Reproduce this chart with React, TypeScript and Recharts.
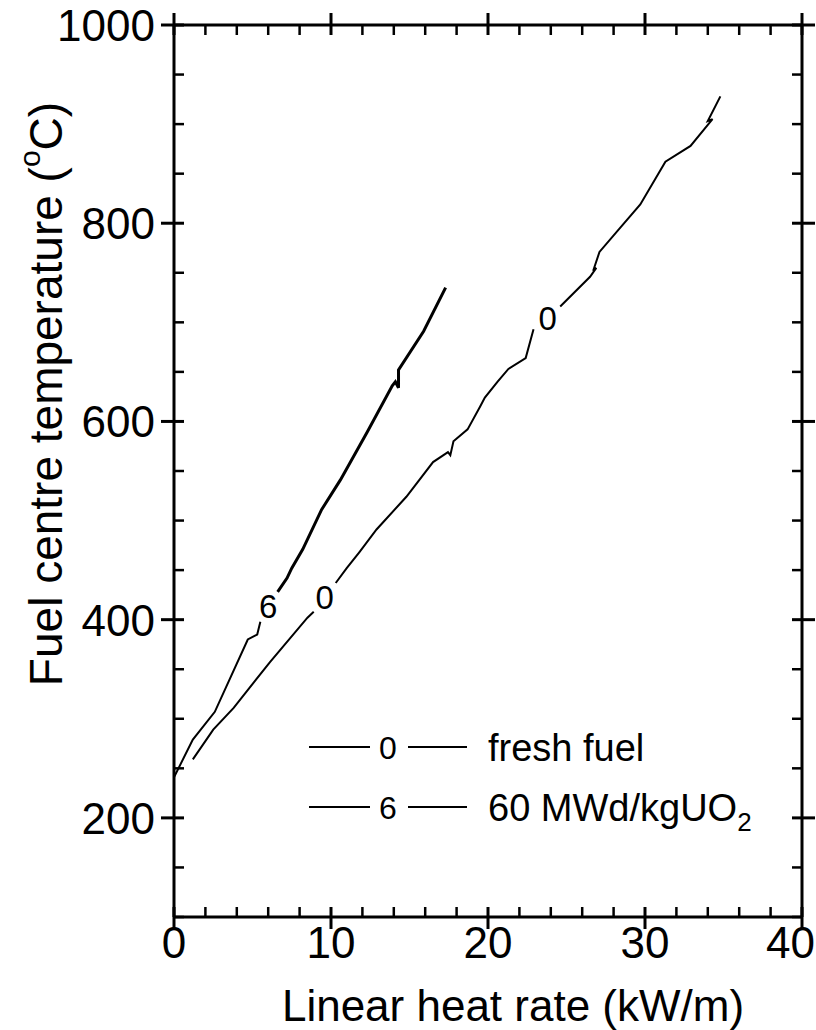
import React from 'react';
import { LineChart, Line, XAxis, YAxis, ReferenceDot, Customized } from 'recharts';

// ---- ticks ----
const xTicks = [0, 2, 4, 6, 8, 10, 12, 14, 16, 18, 20, 22, 24, 26, 28, 30, 32, 34, 36, 38, 40];
const yTicks = [100, 150, 200, 250, 300, 350, 400, 450, 500, 550, 600, 650, 700, 750, 800, 850, 900, 950, 1000];
const xMajor = [0, 10, 20, 30, 40];
const yMajor = [200, 400, 600, 800, 1000];

// ---- fresh fuel (0) ----
const freshA = [
  { q: 1.2, t: 259 }, { q: 2.5, t: 289 }, { q: 3.8, t: 311 }, { q: 6.1, t: 357 },
  { q: 8.5, t: 402 }, { q: 8.9, t: 408 },
];
const freshB = [
  { q: 10.3, t: 437 }, { q: 11.0, t: 452 }, { q: 11.8, t: 468 }, { q: 12.9, t: 491 },
  { q: 14.8, t: 524 }, { q: 16.5, t: 559 }, { q: 17.45, t: 569 }, { q: 17.6, t: 566 },
  { q: 17.8, t: 580 }, { q: 18.7, t: 592 }, { q: 19.5, t: 615 }, { q: 19.8, t: 624 },
  { q: 20.6, t: 640 }, { q: 21.3, t: 653 }, { q: 22.4, t: 664 }, { q: 22.9, t: 693 },
];
const freshC = [
  { q: 24.6, t: 716 }, { q: 26.5, t: 746 }, { q: 26.9, t: 755 }, { q: 26.7, t: 752 },
  { q: 27.1, t: 771 }, { q: 28.4, t: 795 }, { q: 29.7, t: 819 }, { q: 31.3, t: 862 },
  { q: 32.9, t: 878 }, { q: 34.3, t: 905 }, { q: 34.0, t: 903 }, { q: 34.8, t: 928 },
];

// ---- 60 MWd/kgUO2 (6) ----
const burnA = [
  { q: 0.0, t: 241 }, { q: 1.2, t: 279 }, { q: 2.6, t: 307 }, { q: 4.7, t: 380 },
  { q: 5.3, t: 385 }, { q: 5.5, t: 398 },
];
const burnB = [
  { q: 6.6, t: 428 }, { q: 7.2, t: 442 }, { q: 7.5, t: 452 }, { q: 8.2, t: 471 },
  { q: 9.4, t: 511 }, { q: 10.6, t: 541 }, { q: 12.3, t: 589 }, { q: 13.9, t: 636 },
  { q: 14.1, t: 640 }, { q: 14.3, t: 634 }, { q: 14.3, t: 652 }, { q: 15.9, t: 691 },
  { q: 17.3, t: 735 },
];

const curveLabels = [
  { q: 6.0, t: 414, text: '6' },
  { q: 9.6, t: 423, text: '0' },
  { q: 23.8, t: 704, text: '0' },
];

const legendItems = [
  { mark: '0', name: 'fresh fuel', sub: '' },
  { mark: '6', name: '60 MWd/kgUO', sub: '2' },
];

const FONT = 'Liberation Sans, Arial, Helvetica, sans-serif';
const TS = 8; // tickSize
const TM = 2; // tickMargin
const OFF = TS + TM;
const CHART_W = 816;

const BottomTick = (props: any) => {
  const { x, y, payload } = props;
  const ay = y - OFF;
  const v = payload.value;
  const major = xMajor.includes(v);
  const isLast = v === xTicks[xTicks.length - 1];
  return (
    <g>
      <line x1={x} x2={x} y1={ay - 10} y2={major ? ay + 12 : ay} stroke="#000" strokeWidth={major ? 3 : 2.5} />
      {major && (
        <text
          x={isLast ? CHART_W - 1 : x}
          y={ay + 41}
          textAnchor={isLast ? 'end' : 'middle'}
          fontSize={44}
          fontFamily={FONT}
          fill="#000"
        >
          {v}
        </text>
      )}
    </g>
  );
};

const TopTick = (props: any) => {
  const { x, y, payload } = props;
  const ay = y + OFF;
  const major = xMajor.includes(payload.value);
  return <line x1={x} x2={x} y1={major ? ay - 12 : ay} y2={ay + 10} stroke="#000" strokeWidth={major ? 3 : 2.5} />;
};

const LeftTick = (props: any) => {
  const { x, y, payload } = props;
  const ax = x + OFF;
  const v = payload.value;
  const major = yMajor.includes(v);
  return (
    <g>
      <line x1={major ? ax - 13 : ax} x2={ax + 10} y1={y} y2={y} stroke="#000" strokeWidth={major ? 3 : 2.5} />
      {major && (
        <text x={ax - 19} y={y} dy="0.36em" textAnchor="end" fontSize={44} fontFamily={FONT} fill="#000">
          {v}
        </text>
      )}
    </g>
  );
};

const RightTick = (props: any) => {
  const { x, y, payload } = props;
  const ax = x - OFF;
  const major = yMajor.includes(payload.value);
  return <line x1={ax - 10} x2={major ? ax + 13 : ax} y1={y} y2={y} stroke="#000" strokeWidth={major ? 3 : 2.5} />;
};

const Decorations = () => (
  <g fontFamily={FONT} fill="#000">
    <text x={513} y={1021} textAnchor="middle" fontSize={44}>
      Linear heat rate (kW/m)
    </text>
    <text x={62} y={394} textAnchor="middle" fontSize={46} transform="rotate(-90, 62, 394)">
      <tspan>Fuel centre temperature (</tspan>
      <tspan fontSize={30} dy={-22}>o</tspan>
      <tspan fontSize={46} dy={22}>C)</tspan>
    </text>
    {legendItems.map((it, i) => {
      const cy = 747 + i * 60;
      return (
        <g key={i}>
          <line x1={309} x2={370} y1={cy} y2={cy} stroke="#000" strokeWidth={2} />
          <text x={388} y={cy} dy="0.36em" textAnchor="middle" fontSize={32}>{it.mark}</text>
          <line x1={408} x2={467} y1={cy} y2={cy} stroke="#000" strokeWidth={2} />
          <text x={488} y={cy + 14} fontSize={38}>
            <tspan>{it.name}</tspan>
            {it.sub && <tspan fontSize={26} dy={10}>{it.sub}</tspan>}
          </text>
        </g>
      );
    })}
  </g>
);

export default function App() {
  return (
    <div style={{ position: 'absolute', left: 0, top: 0, width: 816, height: 1030, background: '#fff' }}>
      <LineChart width={CHART_W} height={1030} margin={{ top: 24, right: 13, bottom: 0, left: 0 }}>
        <XAxis
          xAxisId={0}
          type="number"
          dataKey="q"
          domain={[0, 40]}
          ticks={xTicks}
          interval={0}
          height={113}
          tickSize={TS}
          tickMargin={TM}
          tickLine={false}
          tick={BottomTick}
          axisLine={{ stroke: '#000', strokeWidth: 3 }}
          allowDataOverflow
        />
        <XAxis
          xAxisId="top"
          orientation="top"
          type="number"
          dataKey="q"
          domain={[0, 40]}
          ticks={xTicks}
          interval={0}
          height={1}
          tickSize={TS}
          tickMargin={TM}
          tickLine={false}
          tick={TopTick}
          axisLine={{ stroke: '#000', strokeWidth: 3 }}
          allowDataOverflow
        />
        <YAxis
          yAxisId={0}
          type="number"
          dataKey="t"
          domain={[100, 1000]}
          ticks={yTicks}
          interval={0}
          width={174}
          tickSize={TS}
          tickMargin={TM}
          tickLine={false}
          tick={LeftTick}
          axisLine={{ stroke: '#000', strokeWidth: 3 }}
          allowDataOverflow
        />
        <YAxis
          yAxisId="right"
          orientation="right"
          type="number"
          dataKey="t"
          domain={[100, 1000]}
          ticks={yTicks}
          interval={0}
          width={1}
          tickSize={TS}
          tickMargin={TM}
          tickLine={false}
          tick={RightTick}
          axisLine={{ stroke: '#000', strokeWidth: 3 }}
          allowDataOverflow
        />
        <Line data={freshA} dataKey="t" type="linear" stroke="#000" strokeWidth={2} dot={false} isAnimationActive={false} />
        <Line data={freshB} dataKey="t" type="linear" stroke="#000" strokeWidth={2} dot={false} isAnimationActive={false} />
        <Line data={freshC} dataKey="t" type="linear" stroke="#000" strokeWidth={2} dot={false} isAnimationActive={false} />
        <Line data={burnA} dataKey="t" type="linear" stroke="#000" strokeWidth={2} dot={false} isAnimationActive={false} />
        <Line data={burnB} dataKey="t" type="linear" stroke="#000" strokeWidth={3} dot={false} isAnimationActive={false} />
        {curveLabels.map((c, i) => (
          <ReferenceDot
            key={i}
            x={c.q}
            y={c.t}
            r={0}
            fill="none"
            stroke="none"
            label={{ value: c.text, position: 'center', fontSize: 33, fontFamily: FONT, fill: '#000' }}
          />
        ))}
        <Customized component={Decorations} />
      </LineChart>
    </div>
  );
}
